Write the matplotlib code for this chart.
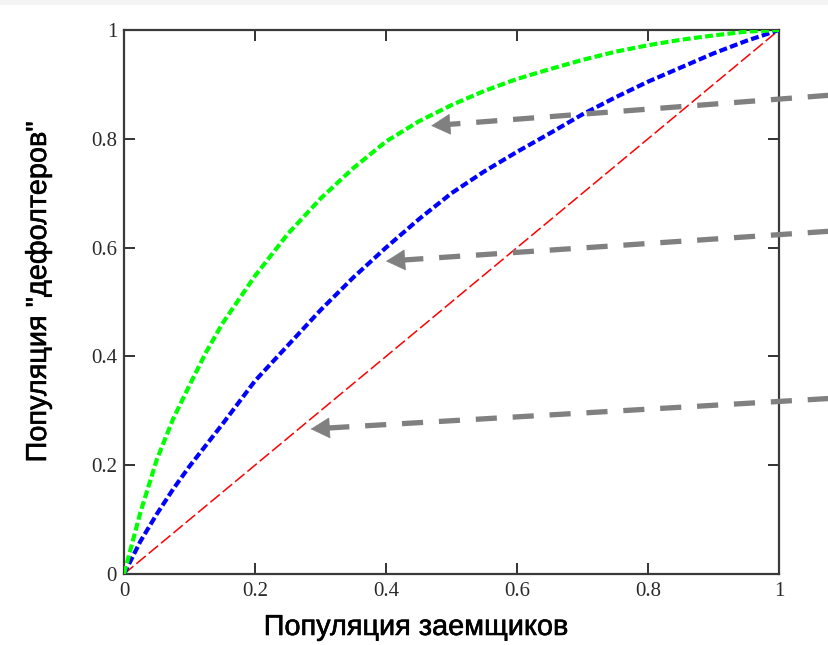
import matplotlib
matplotlib.use("Agg")
import matplotlib.pyplot as plt
from matplotlib.patches import Rectangle
import matplotlib.patheffects as pe

# ---- data ----
x_green = [0, 0.025, 0.05, 0.075, 0.1, 0.125, 0.15, 0.2, 0.25, 0.3, 0.35, 0.4, 0.45, 0.5,
           0.55, 0.6, 0.65, 0.7, 0.75, 0.8, 0.85, 0.9, 0.95, 1.0]
y_green = [0, 0.113, 0.21, 0.285, 0.347, 0.407, 0.46, 0.548, 0.625, 0.69, 0.746, 0.795, 0.832, 0.862,
           0.888, 0.91, 0.928, 0.945, 0.96, 0.972, 0.982, 0.99, 0.997, 1.0]
x_blue = [0, 0.025, 0.05, 0.075, 0.1, 0.15, 0.2, 0.25, 0.3, 0.35, 0.4, 0.45, 0.5,
          0.55, 0.6, 0.65, 0.7, 0.75, 0.8, 0.85, 0.9, 0.95, 1.0]
y_blue = [0, 0.06, 0.11, 0.156, 0.198, 0.275, 0.355, 0.42, 0.485, 0.545, 0.60, 0.652, 0.70,
          0.74, 0.776, 0.81, 0.845, 0.876, 0.905, 0.931, 0.957, 0.98, 1.0]
x_red = [0, 1]
y_red = [0, 1]

arrow_tips = [(0.469, 0.824), (0.400, 0.575), (0.285, 0.2665)]
arrow_tails = [(1.076, 0.880), (1.076, 0.630), (1.076, 0.3226)]

ticks = [0, 0.2, 0.4, 0.6, 0.8, 1.0]
tick_labels = ["0", "0.2", "0.4", "0.6", "0.8", "1"]

xlabel = "Популяция заемщиков"
ylabel = "Популяция \"дефолтеров\""

# ---- figure ----
W, H = 829, 645
fig = plt.figure(figsize=(W / 100, H / 100), dpi=100)
fig.patches.append(Rectangle((0, 1 - 5 / H), 1, 5 / H, transform=fig.transFigure,
                             facecolor="#f4f4f4", edgecolor="none", zorder=0))

ax = fig.add_axes([124 / W, 1 - 574 / H, 655 / W, 544 / H])
ax.set_xlim(0, 1)
ax.set_ylim(0, 1)

ax.plot(x_red, y_red, color="#ff0000", lw=1.1, dashes=(8, 2.5), zorder=3)
ax.plot(x_blue, y_blue, color="#0000ff", lw=3.0, dashes=(1.9, 0.8), zorder=4)
ax.plot(x_green, y_green, color="#00ff00", lw=3.0, dashes=(1.9, 0.8), zorder=5)

gray = "#808080"
for (tx, ty), (sx, sy) in zip(arrow_tips, arrow_tails):
    frac = 0.03
    bx = tx + (sx - tx) * frac
    by = ty + (sy - ty) * frac
    ax.plot([sx, bx], [sy, by], color=gray, lw=3.8, dashes=(4, 3), clip_on=False,
            dash_capstyle="butt", zorder=6)
    ax.annotate("", xy=(tx, ty), xytext=(tx + (sx - tx) * 0.05, ty + (sy - ty) * 0.05),
                arrowprops=dict(arrowstyle="-|>,head_length=1.0,head_width=0.55",
                                mutation_scale=13, color=gray, lw=0.5,
                                shrinkA=0, shrinkB=0),
                annotation_clip=False, zorder=7)

ax.set_xticks(ticks)
ax.set_yticks(ticks)
ax.set_xticklabels(tick_labels)
ax.set_yticklabels(tick_labels)
ax.tick_params(direction="in", length=8, width=1.2, top=True, right=True,
               colors="#111111", labelsize=15)
ax.tick_params(axis="y", pad=5)
ax.tick_params(axis="x", pad=6)
for lab in ax.get_xticklabels() + ax.get_yticklabels():
    lab.set_fontfamily("Liberation Serif")
    lab.set_color("#2a2a2a")
for sp in ax.spines.values():
    sp.set_linewidth(1.6)
    sp.set_color("#3a3a3a")

stroke = [pe.withStroke(linewidth=0.4, foreground="black")]
fig.text(416 / W, 1 - 627 / H, xlabel, ha="center", va="center",
         fontsize=20.8, family="Liberation Sans", color="black", path_effects=stroke)
fig.text(38 / W, 1 - 292 / H, ylabel, ha="center", va="center", rotation=90,
         fontsize=20.8, family="Liberation Sans", color="black", path_effects=stroke)

fig.savefig("out.png", dpi=100)
